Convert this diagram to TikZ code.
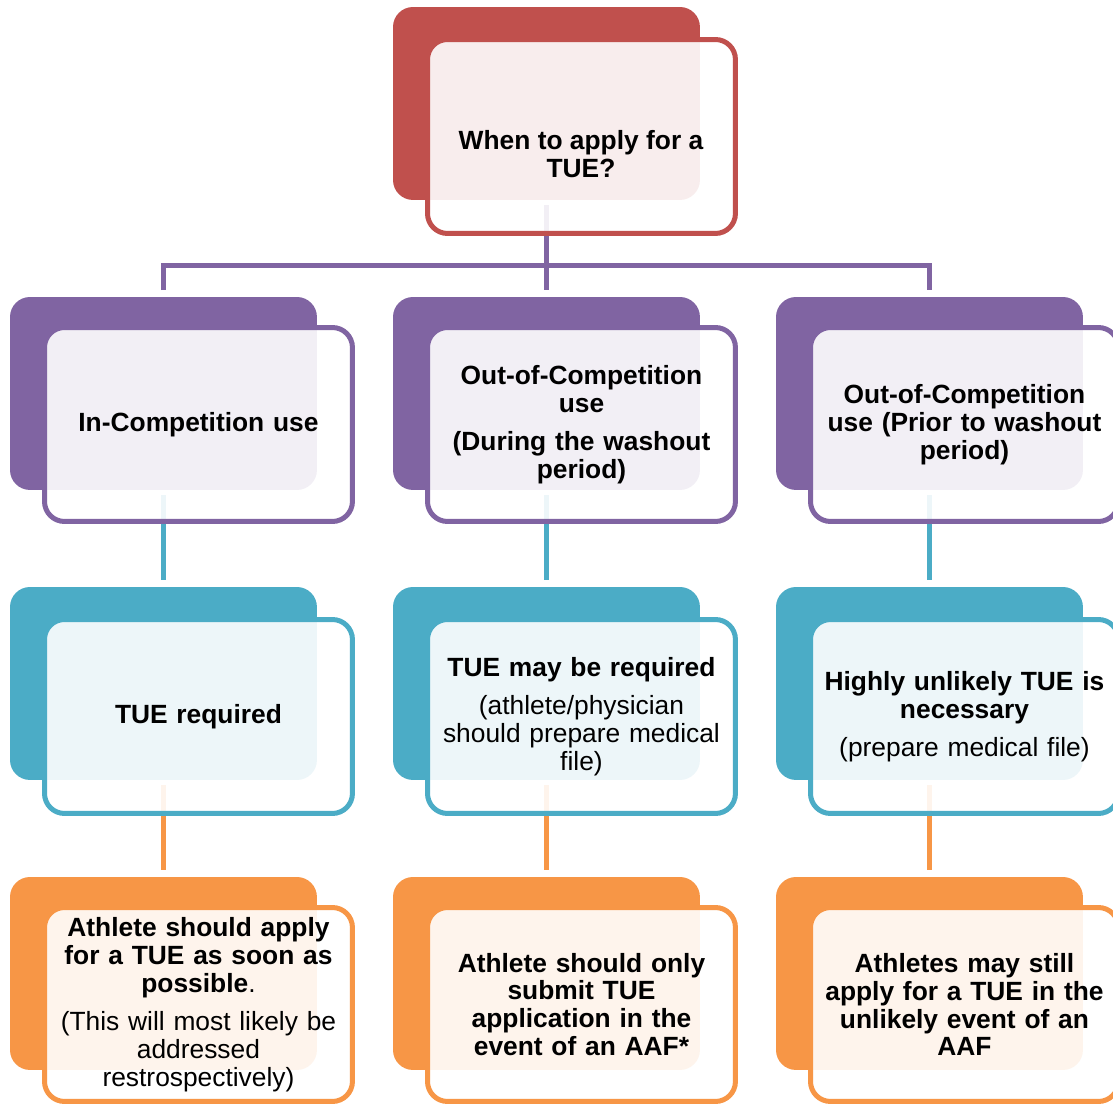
\documentclass[tikz,border=0pt]{standalone}
\usepackage{fontspec}
\setmainfont{Liberation Sans}
\usepackage{tikz}
\usetikzlibrary{positioning,backgrounds,calc}
\definecolor{tuered}{HTML}{C0504D}
\definecolor{tuepurple}{HTML}{8064A2}
\definecolor{tueteal}{HTML}{4BACC6}
\definecolor{tueorange}{HTML}{F79646}
\tikzset{
  backbox/.style={rectangle, rounded corners=0.4cm, fill=#1, minimum width=6.14cm, minimum height=3.86cm, anchor=north west, inner sep=0, outer sep=0},
  frontbox/.style={rectangle, rounded corners=0.4cm, draw=#1, line width=0.1cm, fill=white, fill opacity=0.9, text opacity=1, minimum width=6.16cm, minimum height=3.88cm, anchor=north west, inner sep=0, outer sep=0, align=center, text width=6.16cm, font=\fontsize{15}{15.9}\selectfont\bfseries},
  link/.style={line width=0.1cm, draw=#1},
}

\begin{document}
\begin{tikzpicture}[x=0.02cm,y=-0.02cm]
\useasboundingbox (0,0) rectangle (1113,1103);
% top box
\node[backbox=tuered] (tb) at (393,7) {};
\node[frontbox=tuered] (tf) at (427.5,39.5) {};
\node[align=center,font=\fontsize{15}{15.9}\selectfont\bfseries] (tt) at (581,154) {When to apply for a\\TUE?};
% purple row
\node[backbox=tuepurple] (pb1) at (10,297) {};
\node[backbox=tuepurple] (pb2) at (393,297) {};
\node[backbox=tuepurple] (pb3) at (776,297) {};
\node[frontbox=tuepurple] (pf1) at (44.5,327.5) {In-Competition use};
\node[frontbox=tuepurple] (pf2) at (427.5,327.5) {Out-of-Competition\\use\\[0.2cm](During the washout\\period)};
\node[frontbox=tuepurple] (pf3) at (810.5,327.5) {Out-of-Competition\\use (Prior to washout\\period)};
% teal row
\node[backbox=tueteal] (cb1) at (10,587) {};
\node[backbox=tueteal] (cb2) at (393,587) {};
\node[backbox=tueteal] (cb3) at (776,587) {};
\node[frontbox=tueteal] (cf1) at (44.5,619.5) {TUE required};
\node[frontbox=tueteal] (cf2) at (427.5,619.5) {TUE may be required\\[0.2cm]\mdseries (athlete/physician\\should prepare medical\\file)};
\node[frontbox=tueteal] (cf3) at (810.5,619.5) {Highly unlikely TUE is\\necessary\\[0.2cm]\mdseries (prepare medical file)};
% orange row
\node[backbox=tueorange] (ob1) at (10,877) {};
\node[backbox=tueorange] (ob2) at (393,877) {};
\node[backbox=tueorange] (ob3) at (776,877) {};
\node[frontbox=tueorange] (of1) at (44.5,907.5) {Athlete should apply\\for a TUE as soon as\\possible{\mdseries.}\\[0.2cm]\mdseries (This will most likely be\\addressed\\restrospectively)};
\node[frontbox=tueorange] (of2) at (427.5,907.5) {Athlete should only\\submit TUE\\application in the\\event of an AAF*};
\node[frontbox=tueorange] (of3) at (810.5,907.5) {Athletes may still\\apply for a TUE in the\\unlikely event of an\\AAF};
% connectors
\coordinate (hub) at (546.5,265);
\begin{pgfonlayer}{background}
\draw[link=tuepurple] ([yshift=-0.1cm]tb.south) -- ([yshift=0.14cm]pb2.north);
\draw[link=tuepurple] ([yshift=0.14cm]pb1.north) |- (hub) -| ([yshift=0.14cm]pb3.north);
\draw[link=tueteal] ([yshift=-0.1cm]pb1.south) -- ([yshift=0.14cm]cb1.north);
\draw[link=tueteal] ([yshift=-0.1cm]pb2.south) -- ([yshift=0.14cm]cb2.north);
\draw[link=tueteal] ([yshift=-0.1cm]pb3.south) -- ([yshift=0.14cm]cb3.north);
\draw[link=tueorange] ([yshift=-0.1cm]cb1.south) -- ([yshift=0.14cm]ob1.north);
\draw[link=tueorange] ([yshift=-0.1cm]cb2.south) -- ([yshift=0.14cm]ob2.north);
\draw[link=tueorange] ([yshift=-0.1cm]cb3.south) -- ([yshift=0.14cm]ob3.north);
\end{pgfonlayer}
\end{tikzpicture}
\end{document}
